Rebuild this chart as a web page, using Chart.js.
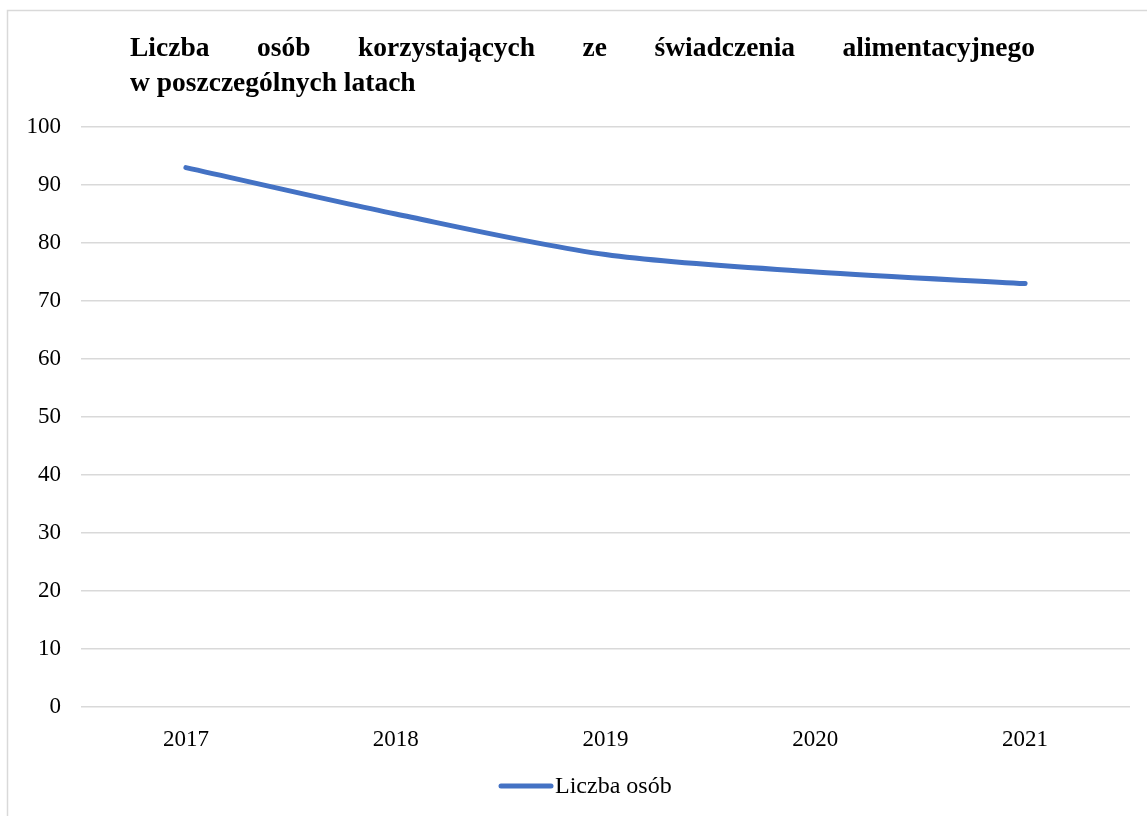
<!DOCTYPE html>
<html><head><meta charset="utf-8">
<script src="https://cdn.jsdelivr.net/npm/chart.js@4"></script>
<style>html,body{margin:0;padding:0;background:#fff}#wrap{width:1147px;height:816px}</style>
</head><body><div id="wrap"><canvas id="c" width="1147" height="816"></canvas></div>
<script>
const categories = ['2017','2018','2019','2020','2021'];
const values = [93, 85, 78, 75, 73];
const seriesName = 'Liczba osób';
const titleLine1 = ['Liczba','osób','korzystających','ze','świadczenia','alimentacyjnego'];
const titleLine2 = 'w poszczególnych latach';
const yTicks = [0,10,20,30,40,50,60,70,80,90,100];

const FONT = '"Liberation Serif", "Times New Roman", serif';

const framePlugin = {
  id: 'frame',
  beforeDraw(chart) {
    const ctx = chart.ctx;
    ctx.save();
    ctx.fillStyle = '#fff';
    ctx.fillRect(0,0,chart.width,chart.height);
    ctx.strokeStyle = '#d9d9d9';
    ctx.lineWidth = 1.5;
    ctx.strokeRect(7.5, 10.5, 1160, 830);
    ctx.restore();
  },
  afterDraw(chart) {
    const ctx = chart.ctx;
    ctx.save();
    // title, justified first line
    ctx.fillStyle = '#000';
    ctx.font = 'bold 27.5px ' + FONT;
    ctx.textBaseline = 'alphabetic';
    const left = 130, right = 1035;
    let total = 0;
    const widths = titleLine1.map(w => { const m = ctx.measureText(w).width; total += m; return m; });
    const gap = (right - left - total) / (titleLine1.length - 1);
    let x = left;
    titleLine1.forEach((w,i) => { ctx.fillText(w, x, 56); x += widths[i] + gap; });
    ctx.fillText(titleLine2, left, 91);
    // legend
    const ds = chart.data.datasets[0];
    const ly = 786;
    ctx.strokeStyle = ds.borderColor;
    ctx.lineWidth = 5;
    ctx.lineCap = 'round';
    ctx.beginPath();
    ctx.moveTo(501, ly); ctx.lineTo(551, ly);
    ctx.stroke();
    ctx.font = '24px ' + FONT;
    ctx.textBaseline = 'middle';
    ctx.fillText(ds.label, 555, ly + 1);
    ctx.restore();
  }
};

new Chart(document.getElementById('c'), {
  type: 'line',
  data: {
    labels: categories,
    datasets: [{
      label: seriesName,
      data: values,
      borderColor: '#4472C4',
      backgroundColor: '#4472C4',
      borderWidth: 5,
      borderCapStyle: 'round',
      pointRadius: 0,
      pointHoverRadius: 0,
      tension: 0.3,
      fill: false
    }]
  },
  options: {
    responsive: false,
    animation: false,
    layout: { padding: { top: 127, left: 0, right: 17, bottom: 59 } },
    plugins: {
      title: { display: false },
      tooltip: { enabled: false },
      legend: { display: false }
    },
    scales: {
      x: {
        offset: true,
        grid: { display: false, drawTicks: false },
        border: { display: false },
        ticks: { font: { family: FONT, size: 23 }, color: '#000', padding: 19 },
        afterFit(s) { s.height = 50; }
      },
      y: {
        min: 0, max: 100,
        afterBuildTicks(s) { s.ticks = yTicks.map(v => ({ value: v })); },
        grid: { color: '#d9d9d9', lineWidth: 1.5, drawTicks: false },
        border: { display: false },
        ticks: { font: { family: FONT, size: 23 }, color: '#000', padding: 20 },
        afterFit(s) { s.width = 81; }
      }
    }
  },
  plugins: [framePlugin]
});
</script></body></html>
